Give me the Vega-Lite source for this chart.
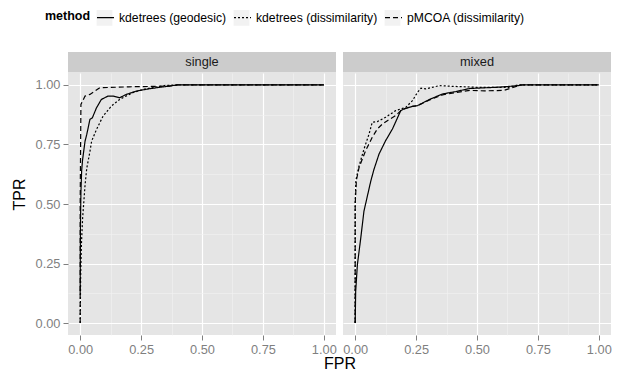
{
  "$schema": "https://vega.github.io/schema/vega-lite/v6.json",
  "padding": {"left": 11, "top": 8, "right": 10, "bottom": 0},
  "background": "#FFFFFF",
  "config": {
    "font": "Liberation Sans",
    "view": {"stroke": null},
    "axis": {
      "domain": false,
      "labelColor": "#7F7F7F",
      "labelFontSize": 12.8,
      "tickColor": "#7F7F7F",
      "tickSize": 5,
      "tickWidth": 1,
      "labelPadding": 3,
      "labelFlush": false,
      "titleFontWeight": "normal",
      "titleFontSize": 16,
      "titleColor": "#000000"
    }
  },
  "datasets": {
    "roc": [
      {"panel": "single", "method": "kdetrees (geodesic)", "FPR": 0, "TPR": 0.12},
      {"panel": "single", "method": "kdetrees (geodesic)", "FPR": 0.001, "TPR": 0.4},
      {"panel": "single", "method": "kdetrees (geodesic)", "FPR": 0.003, "TPR": 0.55},
      {"panel": "single", "method": "kdetrees (geodesic)", "FPR": 0.006, "TPR": 0.64},
      {"panel": "single", "method": "kdetrees (geodesic)", "FPR": 0.01, "TPR": 0.687},
      {"panel": "single", "method": "kdetrees (geodesic)", "FPR": 0.02, "TPR": 0.764},
      {"panel": "single", "method": "kdetrees (geodesic)", "FPR": 0.027, "TPR": 0.792},
      {"panel": "single", "method": "kdetrees (geodesic)", "FPR": 0.04, "TPR": 0.855},
      {"panel": "single", "method": "kdetrees (geodesic)", "FPR": 0.05, "TPR": 0.862},
      {"panel": "single", "method": "kdetrees (geodesic)", "FPR": 0.067, "TPR": 0.904},
      {"panel": "single", "method": "kdetrees (geodesic)", "FPR": 0.087, "TPR": 0.939},
      {"panel": "single", "method": "kdetrees (geodesic)", "FPR": 0.114, "TPR": 0.953},
      {"panel": "single", "method": "kdetrees (geodesic)", "FPR": 0.135, "TPR": 0.953},
      {"panel": "single", "method": "kdetrees (geodesic)", "FPR": 0.162, "TPR": 0.946},
      {"panel": "single", "method": "kdetrees (geodesic)", "FPR": 0.189, "TPR": 0.96},
      {"panel": "single", "method": "kdetrees (geodesic)", "FPR": 0.23, "TPR": 0.974},
      {"panel": "single", "method": "kdetrees (geodesic)", "FPR": 0.284, "TPR": 0.984},
      {"panel": "single", "method": "kdetrees (geodesic)", "FPR": 0.365, "TPR": 0.995},
      {"panel": "single", "method": "kdetrees (geodesic)", "FPR": 0.4, "TPR": 1},
      {"panel": "single", "method": "kdetrees (geodesic)", "FPR": 1, "TPR": 1},

      {"panel": "single", "method": "kdetrees (dissimilarity)", "FPR": 0, "TPR": 0},
      {"panel": "single", "method": "kdetrees (dissimilarity)", "FPR": 0.002, "TPR": 0.2},
      {"panel": "single", "method": "kdetrees (dissimilarity)", "FPR": 0.005, "TPR": 0.33},
      {"panel": "single", "method": "kdetrees (dissimilarity)", "FPR": 0.01, "TPR": 0.44},
      {"panel": "single", "method": "kdetrees (dissimilarity)", "FPR": 0.02, "TPR": 0.58},
      {"panel": "single", "method": "kdetrees (dissimilarity)", "FPR": 0.027, "TPR": 0.65},
      {"panel": "single", "method": "kdetrees (dissimilarity)", "FPR": 0.04, "TPR": 0.72},
      {"panel": "single", "method": "kdetrees (dissimilarity)", "FPR": 0.047, "TPR": 0.764},
      {"panel": "single", "method": "kdetrees (dissimilarity)", "FPR": 0.067, "TPR": 0.813},
      {"panel": "single", "method": "kdetrees (dissimilarity)", "FPR": 0.094, "TPR": 0.869},
      {"panel": "single", "method": "kdetrees (dissimilarity)", "FPR": 0.128, "TPR": 0.911},
      {"panel": "single", "method": "kdetrees (dissimilarity)", "FPR": 0.162, "TPR": 0.939},
      {"panel": "single", "method": "kdetrees (dissimilarity)", "FPR": 0.182, "TPR": 0.95},
      {"panel": "single", "method": "kdetrees (dissimilarity)", "FPR": 0.216, "TPR": 0.967},
      {"panel": "single", "method": "kdetrees (dissimilarity)", "FPR": 0.257, "TPR": 0.981},
      {"panel": "single", "method": "kdetrees (dissimilarity)", "FPR": 0.35, "TPR": 0.998},
      {"panel": "single", "method": "kdetrees (dissimilarity)", "FPR": 0.4, "TPR": 1},
      {"panel": "single", "method": "kdetrees (dissimilarity)", "FPR": 1, "TPR": 1},

      {"panel": "single", "method": "pMCOA (dissimilarity)", "FPR": 0, "TPR": 0},
      {"panel": "single", "method": "pMCOA (dissimilarity)", "FPR": 0, "TPR": 0.5},
      {"panel": "single", "method": "pMCOA (dissimilarity)", "FPR": 0.003, "TPR": 0.918},
      {"panel": "single", "method": "pMCOA (dissimilarity)", "FPR": 0.02, "TPR": 0.953},
      {"panel": "single", "method": "pMCOA (dissimilarity)", "FPR": 0.04, "TPR": 0.96},
      {"panel": "single", "method": "pMCOA (dissimilarity)", "FPR": 0.081, "TPR": 0.988},
      {"panel": "single", "method": "pMCOA (dissimilarity)", "FPR": 0.2, "TPR": 0.992},
      {"panel": "single", "method": "pMCOA (dissimilarity)", "FPR": 0.365, "TPR": 0.995},
      {"panel": "single", "method": "pMCOA (dissimilarity)", "FPR": 0.4, "TPR": 1},
      {"panel": "single", "method": "pMCOA (dissimilarity)", "FPR": 1, "TPR": 1},

      {"panel": "mixed", "method": "kdetrees (geodesic)", "FPR": 0, "TPR": 0},
      {"panel": "mixed", "method": "kdetrees (geodesic)", "FPR": 0.002, "TPR": 0.133},
      {"panel": "mixed", "method": "kdetrees (geodesic)", "FPR": 0.009, "TPR": 0.245},
      {"panel": "mixed", "method": "kdetrees (geodesic)", "FPR": 0.023, "TPR": 0.358},
      {"panel": "mixed", "method": "kdetrees (geodesic)", "FPR": 0.036, "TPR": 0.47},
      {"panel": "mixed", "method": "kdetrees (geodesic)", "FPR": 0.064, "TPR": 0.596},
      {"panel": "mixed", "method": "kdetrees (geodesic)", "FPR": 0.077, "TPR": 0.645},
      {"panel": "mixed", "method": "kdetrees (geodesic)", "FPR": 0.098, "TPR": 0.71},
      {"panel": "mixed", "method": "kdetrees (geodesic)", "FPR": 0.125, "TPR": 0.766},
      {"panel": "mixed", "method": "kdetrees (geodesic)", "FPR": 0.153, "TPR": 0.815},
      {"panel": "mixed", "method": "kdetrees (geodesic)", "FPR": 0.187, "TPR": 0.892},
      {"panel": "mixed", "method": "kdetrees (geodesic)", "FPR": 0.2, "TPR": 0.899},
      {"panel": "mixed", "method": "kdetrees (geodesic)", "FPR": 0.235, "TPR": 0.91},
      {"panel": "mixed", "method": "kdetrees (geodesic)", "FPR": 0.256, "TPR": 0.913},
      {"panel": "mixed", "method": "kdetrees (geodesic)", "FPR": 0.303, "TPR": 0.938},
      {"panel": "mixed", "method": "kdetrees (geodesic)", "FPR": 0.358, "TPR": 0.962},
      {"panel": "mixed", "method": "kdetrees (geodesic)", "FPR": 0.413, "TPR": 0.972},
      {"panel": "mixed", "method": "kdetrees (geodesic)", "FPR": 0.47, "TPR": 0.985},
      {"panel": "mixed", "method": "kdetrees (geodesic)", "FPR": 0.58, "TPR": 0.99},
      {"panel": "mixed", "method": "kdetrees (geodesic)", "FPR": 0.66, "TPR": 0.996},
      {"panel": "mixed", "method": "kdetrees (geodesic)", "FPR": 0.69, "TPR": 1},
      {"panel": "mixed", "method": "kdetrees (geodesic)", "FPR": 1, "TPR": 1},

      {"panel": "mixed", "method": "kdetrees (dissimilarity)", "FPR": 0, "TPR": 0},
      {"panel": "mixed", "method": "kdetrees (dissimilarity)", "FPR": 0, "TPR": 0.5},
      {"panel": "mixed", "method": "kdetrees (dissimilarity)", "FPR": 0.003, "TPR": 0.6},
      {"panel": "mixed", "method": "kdetrees (dissimilarity)", "FPR": 0.016, "TPR": 0.66},
      {"panel": "mixed", "method": "kdetrees (dissimilarity)", "FPR": 0.036, "TPR": 0.73},
      {"panel": "mixed", "method": "kdetrees (dissimilarity)", "FPR": 0.057, "TPR": 0.794},
      {"panel": "mixed", "method": "kdetrees (dissimilarity)", "FPR": 0.07, "TPR": 0.843},
      {"panel": "mixed", "method": "kdetrees (dissimilarity)", "FPR": 0.091, "TPR": 0.846},
      {"panel": "mixed", "method": "kdetrees (dissimilarity)", "FPR": 0.125, "TPR": 0.864},
      {"panel": "mixed", "method": "kdetrees (dissimilarity)", "FPR": 0.166, "TPR": 0.892},
      {"panel": "mixed", "method": "kdetrees (dissimilarity)", "FPR": 0.208, "TPR": 0.906},
      {"panel": "mixed", "method": "kdetrees (dissimilarity)", "FPR": 0.235, "TPR": 0.934},
      {"panel": "mixed", "method": "kdetrees (dissimilarity)", "FPR": 0.256, "TPR": 0.969},
      {"panel": "mixed", "method": "kdetrees (dissimilarity)", "FPR": 0.27, "TPR": 0.986},
      {"panel": "mixed", "method": "kdetrees (dissimilarity)", "FPR": 0.29, "TPR": 0.983},
      {"panel": "mixed", "method": "kdetrees (dissimilarity)", "FPR": 0.345, "TPR": 0.997},
      {"panel": "mixed", "method": "kdetrees (dissimilarity)", "FPR": 0.4, "TPR": 0.994},
      {"panel": "mixed", "method": "kdetrees (dissimilarity)", "FPR": 0.5, "TPR": 0.99},
      {"panel": "mixed", "method": "kdetrees (dissimilarity)", "FPR": 0.63, "TPR": 0.99},
      {"panel": "mixed", "method": "kdetrees (dissimilarity)", "FPR": 0.67, "TPR": 1},
      {"panel": "mixed", "method": "kdetrees (dissimilarity)", "FPR": 1, "TPR": 1},

      {"panel": "mixed", "method": "pMCOA (dissimilarity)", "FPR": 0, "TPR": 0},
      {"panel": "mixed", "method": "pMCOA (dissimilarity)", "FPR": 0, "TPR": 0.5},
      {"panel": "mixed", "method": "pMCOA (dissimilarity)", "FPR": 0.005, "TPR": 0.6},
      {"panel": "mixed", "method": "pMCOA (dissimilarity)", "FPR": 0.016, "TPR": 0.654},
      {"panel": "mixed", "method": "pMCOA (dissimilarity)", "FPR": 0.043, "TPR": 0.724},
      {"panel": "mixed", "method": "pMCOA (dissimilarity)", "FPR": 0.07, "TPR": 0.78},
      {"panel": "mixed", "method": "pMCOA (dissimilarity)", "FPR": 0.091, "TPR": 0.815},
      {"panel": "mixed", "method": "pMCOA (dissimilarity)", "FPR": 0.112, "TPR": 0.836},
      {"panel": "mixed", "method": "pMCOA (dissimilarity)", "FPR": 0.132, "TPR": 0.85},
      {"panel": "mixed", "method": "pMCOA (dissimilarity)", "FPR": 0.166, "TPR": 0.871},
      {"panel": "mixed", "method": "pMCOA (dissimilarity)", "FPR": 0.187, "TPR": 0.892},
      {"panel": "mixed", "method": "pMCOA (dissimilarity)", "FPR": 0.2, "TPR": 0.899},
      {"panel": "mixed", "method": "pMCOA (dissimilarity)", "FPR": 0.235, "TPR": 0.91},
      {"panel": "mixed", "method": "pMCOA (dissimilarity)", "FPR": 0.256, "TPR": 0.913},
      {"panel": "mixed", "method": "pMCOA (dissimilarity)", "FPR": 0.303, "TPR": 0.936},
      {"panel": "mixed", "method": "pMCOA (dissimilarity)", "FPR": 0.358, "TPR": 0.958},
      {"panel": "mixed", "method": "pMCOA (dissimilarity)", "FPR": 0.413, "TPR": 0.968},
      {"panel": "mixed", "method": "pMCOA (dissimilarity)", "FPR": 0.47, "TPR": 0.977},
      {"panel": "mixed", "method": "pMCOA (dissimilarity)", "FPR": 0.53, "TPR": 0.975},
      {"panel": "mixed", "method": "pMCOA (dissimilarity)", "FPR": 0.61, "TPR": 0.977},
      {"panel": "mixed", "method": "pMCOA (dissimilarity)", "FPR": 0.68, "TPR": 1},
      {"panel": "mixed", "method": "pMCOA (dissimilarity)", "FPR": 1, "TPR": 1}
    ],
    "methods": [
      {"method": "kdetrees (geodesic)"},
      {"method": "kdetrees (dissimilarity)"},
      {"method": "pMCOA (dissimilarity)"}
    ],
    "keys": [
      {"key": "kdetrees (geodesic)"},
      {"key": "kdetrees (dissimilarity)"},
      {"key": "pMCOA (dissimilarity)"}
    ]
  },
  "bounds": "flush",
  "columns": 2,
  "spacing": {"row": 0, "column": 7},
  "concat": [
    {
      "width": 268,
      "height": 20.5,
      "view": {"fill": "#CCCCCC", "stroke": null},
      "layer": [
        {
          "data": {"values": [{"panel": "single"}]},
          "mark": {"type": "text", "fontSize": 12.8, "color": "#1A1A1A", "baseline": "middle"},
          "encoding": {"text": {"field": "panel", "type": "nominal"}}
        },
        {
          "data": {"name": "keys"},
          "mark": {"type": "square", "opacity": 0},
          "encoding": {
            "fill": {
              "field": "key",
              "type": "nominal",
              "sort": null,
              "scale": {"range": ["#F2F2F2", "#F2F2F2", "#F2F2F2"]},
              "legend": {
                "orient": "none",
                "legendX": 27,
                "legendY": -44,
                "zindex": 0,
                "direction": "horizontal",
                "columns": 3,
                "title": null,
                "labelFontSize": 12.2,
                "labelColor": "transparent",
                "labelLimit": 300,
                "labelOffset": 4,
                "columnPadding": 4,
                "symbolType": "square",
                "symbolSize": 289,
                "symbolStrokeColor": "#FFFFFF",
                "symbolStrokeWidth": 1.2,
                "symbolOpacity": 1
              }
            }
          }
        },
        {
          "data": {"name": "methods"},
          "mark": {"type": "line", "opacity": 0},
          "encoding": {
            "strokeDash": {
              "field": "method",
              "type": "nominal",
              "scale": {
                "domain": ["kdetrees (geodesic)", "kdetrees (dissimilarity)", "pMCOA (dissimilarity)"],
                "range": [[1, 0], [2, 2], [5, 3]]
              },
              "legend": {
                "orient": "none",
                "legendX": -23,
                "legendY": -44,
                "zindex": 1,
                "direction": "horizontal",
                "columns": 3,
                "title": "method",
                "titleOrient": "left",
                "titleFontWeight": "bold",
                "titleFontSize": 12.5,
                "titleColor": "#000000",
                "titlePadding": 5,
                "labelFontSize": 12.2,
                "labelColor": "#000000",
                "labelLimit": 300,
                "labelOffset": 4,
                "columnPadding": 4,
                "symbolType": "stroke",
                "symbolSize": 289,
                "symbolStrokeColor": "#000000",
                "symbolStrokeWidth": 1.2,
                "symbolOpacity": 1
              }
            }
          }
        }
      ]
    },
    {
      "width": 268,
      "height": 20.5,
      "view": {"fill": "#CCCCCC", "stroke": null},
      "data": {"values": [{"panel": "mixed"}]},
      "mark": {"type": "text", "fontSize": 12.8, "color": "#1A1A1A", "baseline": "middle"},
      "encoding": {"text": {"field": "panel", "type": "nominal"}}
    },
    {
      "width": 268,
      "height": 262,
      "view": {"fill": "#E5E5E5", "stroke": null},
      "data": {"name": "roc"},
      "transform": [{"filter": "datum.panel === 'single'"}],
      "mark": {"type": "line", "color": "#000000", "strokeWidth": 1.2, "clip": true},
      "encoding": {
        "x": {
          "field": "FPR",
          "type": "quantitative",
          "scale": {"domain": [-0.05, 1.05], "nice": false, "zero": false},
          "axis": {
            "values": [0, 0.125, 0.25, 0.375, 0.5, 0.625, 0.75, 0.875, 1],
            "labelExpr": "datum.value % 0.25 === 0 ? format(datum.value, '.2f') : ''",
            "gridColor": {"condition": {"test": "datum.value % 0.25 === 0", "value": "#FFFFFF"}, "value": "#F2F2F2"},
            "gridWidth": {"condition": {"test": "datum.value % 0.25 === 0", "value": 1.2}, "value": 0.6},
            "tickOpacity": {"condition": {"test": "datum.value % 0.25 === 0", "value": 1}, "value": 0},
            "title": "FPR",
            "titleX": 271.5,
            "titleY": 33.5,
            "titleAlign": "center",
            "titleBaseline": "alphabetic"
          }
        },
        "y": {
          "field": "TPR",
          "type": "quantitative",
          "scale": {"domain": [-0.05, 1.05], "nice": false, "zero": false},
          "axis": {
            "values": [0, 0.125, 0.25, 0.375, 0.5, 0.625, 0.75, 0.875, 1],
            "labelExpr": "datum.value % 0.25 === 0 ? format(datum.value, '.2f') : ''",
            "gridColor": {"condition": {"test": "datum.value % 0.25 === 0", "value": "#FFFFFF"}, "value": "#F2F2F2"},
            "gridWidth": {"condition": {"test": "datum.value % 0.25 === 0", "value": 1.2}, "value": 0.6},
            "tickOpacity": {"condition": {"test": "datum.value % 0.25 === 0", "value": 1}, "value": 0},
            "title": "TPR",
            "titleX": -44,
            "titleY": 121,
            "titleAlign": "center",
            "titleBaseline": "alphabetic"
          }
        },
        "strokeDash": {
          "field": "method",
          "type": "nominal",
          "scale": {
            "domain": ["kdetrees (geodesic)", "kdetrees (dissimilarity)", "pMCOA (dissimilarity)"],
            "range": [[1, 0], [2, 2], [5, 3]]
          },
          "legend": null
        },
        "order": {"value": null}
      }
    },
    {
      "width": 268,
      "height": 262,
      "view": {"fill": "#E5E5E5", "stroke": null},
      "data": {"name": "roc"},
      "transform": [{"filter": "datum.panel === 'mixed'"}],
      "mark": {"type": "line", "color": "#000000", "strokeWidth": 1.2, "clip": true},
      "encoding": {
        "x": {
          "field": "FPR",
          "type": "quantitative",
          "scale": {"domain": [-0.05, 1.05], "nice": false, "zero": false},
          "axis": {
            "values": [0, 0.125, 0.25, 0.375, 0.5, 0.625, 0.75, 0.875, 1],
            "labelExpr": "datum.value % 0.25 === 0 ? format(datum.value, '.2f') : ''",
            "gridColor": {"condition": {"test": "datum.value % 0.25 === 0", "value": "#FFFFFF"}, "value": "#F2F2F2"},
            "gridWidth": {"condition": {"test": "datum.value % 0.25 === 0", "value": 1.2}, "value": 0.6},
            "tickOpacity": {"condition": {"test": "datum.value % 0.25 === 0", "value": 1}, "value": 0},
            "title": null
          }
        },
        "y": {
          "field": "TPR",
          "type": "quantitative",
          "scale": {"domain": [-0.05, 1.05], "nice": false, "zero": false},
          "axis": {
            "values": [0, 0.125, 0.25, 0.375, 0.5, 0.625, 0.75, 0.875, 1],
            "labels": false,
            "ticks": false,
            "gridColor": {"condition": {"test": "datum.value % 0.25 === 0", "value": "#FFFFFF"}, "value": "#F2F2F2"},
            "gridWidth": {"condition": {"test": "datum.value % 0.25 === 0", "value": 1.2}, "value": 0.6},
            "title": null
          }
        },
        "strokeDash": {
          "field": "method",
          "type": "nominal",
          "scale": {
            "domain": ["kdetrees (geodesic)", "kdetrees (dissimilarity)", "pMCOA (dissimilarity)"],
            "range": [[1, 0], [2, 2], [5, 3]]
          },
          "legend": null
        },
        "order": {"value": null}
      }
    }
  ]
}
